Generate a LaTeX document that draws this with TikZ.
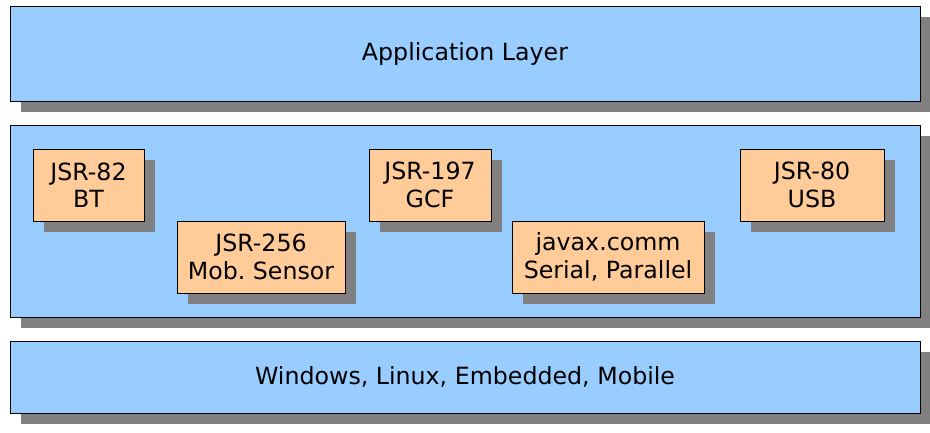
\documentclass[tikz,border=0pt]{standalone}
\usepackage{fontspec}
\setmainfont{DejaVu Sans}
\usetikzlibrary{shadows,positioning}
\definecolor{layerblue}{HTML}{99CCFF}
\definecolor{jsrorange}{HTML}{FFCC99}
\frenchspacing
\begin{document}
\begin{tikzpicture}[x=1pt,y=-1pt,
    every node/.style={font=\fontsize{23.7}{27.5}\selectfont,align=center,inner sep=0pt},
    box/.style={draw=black,line width=1pt,
        drop shadow={fill=gray,opacity=1,shadow xshift=11pt,shadow yshift=-11pt}},
    layer/.style={box,fill=layerblue,minimum width=910pt},
    api/.style={box,fill=jsrorange,minimum height=72pt}]
    \useasboundingbox (0,0) rectangle (930,432);
    \node[layer,minimum height=95pt] (app) at (465,53.5) {Application Layer};
    \node[layer,minimum height=192pt] (mid) at (465,221) {};
    \node[layer,minimum height=72pt] (os) at (465,377) {Windows, Linux, Embedded, Mobile};
    \node[api,minimum width=111pt] (jsr82) at (88.5,185) {JSR-82\\BT};
    \node[api,minimum width=168pt] (jsr256) at (261,257) {JSR-256\\Mob. Sensor};
    \node[api,minimum width=122pt] (jsr197) at (430,185) {JSR-197\\GCF};
    \node[api,minimum width=192pt] (comm) at (608,257) {javax.comm\\Serial, Parallel};
    \node[api,minimum width=144pt] (jsr80) at (812,185) {JSR-80\\USB};
\end{tikzpicture}
\end{document}
